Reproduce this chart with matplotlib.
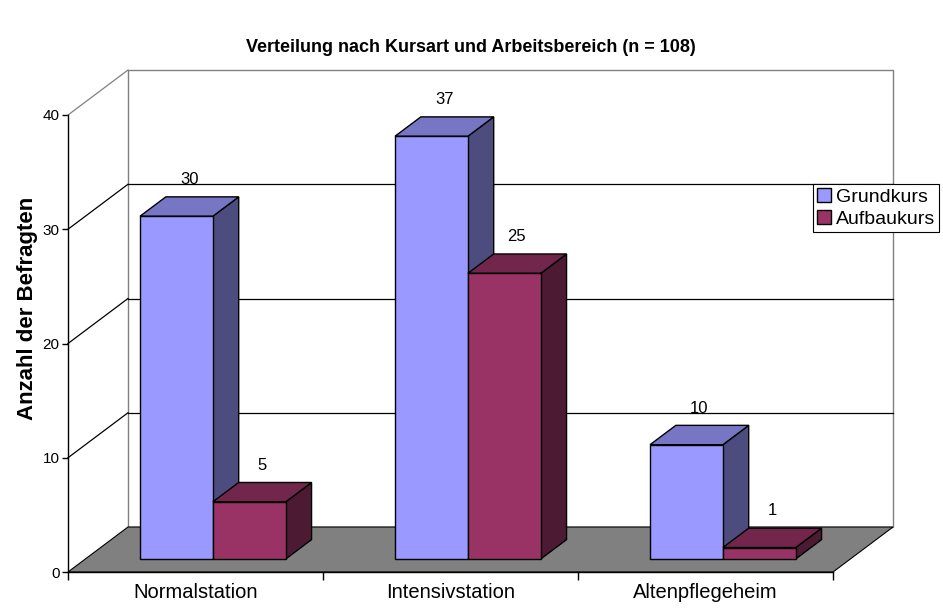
"""
Verteilung nach Kursart und Arbeitsbereich
pseudo-3D grouped bar chart (Excel style)
"""

import matplotlib
matplotlib.use("Agg")
import matplotlib.pyplot as plt
from matplotlib.patches import Polygon, Patch

# Data
categories = ["Normalstation", "Intensivstation", "Altenpflegeheim"]
series_names = ["Grundkurs", "Aufbaukurs"]
grundkurs = [30, 37, 10]
aufbaukurs = [5, 25, 1]
y_ticks = [0, 10, 20, 30, 40]

# Colours (front, top, side) per series
grund_cols = ("#9999FF", "#7676C4", "#4C4C7F")
aufbau_cols = ("#993366", "#73264B", "#4D1A33")

plt.rcParams['font.family'] = ['Liberation Sans', 'DejaVu Sans']

W, H = 943, 610
fig = plt.figure(figsize=(W / 100, H / 100), dpi=100)
# front plane of the plot: x 68..833 px, y 572..115 px
ax = fig.add_axes([68 / W, 38 / H, 765 / W, 457 / H])
ax.set_xlim(0, 3)
ax.set_ylim(0, 40)
ax.patch.set_visible(False)

# depth of the floor, in data units
DX = 60 / 255
DY = 45 / (457 / 40)

def P(x, v, z):
	# oblique projection of (category x, value v, depth z) onto the front plane
	return (x + z * DX, v + z * DY)

ymax = y_ticks[-1]

# back wall
wall = Polygon([P(0, 0, 1), P(3, 0, 1), P(3, ymax, 1), P(0, ymax, 1)], closed=True,
	facecolor="white", edgecolor="#808080", lw=1, clip_on=False, zorder=1)
ax.add_patch(wall)
for v in y_ticks[1:-1]:
	ax.plot(*zip(P(0, v, 1), P(3, v, 1)), color="black", lw=0.9, clip_on=False, zorder=2)
# left wall lines
for v in y_ticks[1:]:
	col = "#808080" if v == ymax else "black"
	ax.plot(*zip(P(0, v, 0), P(0, v, 1)), color=col, lw=0.9, clip_on=False, zorder=2)

# floor
floor = Polygon([P(0, 0, 0), P(3, 0, 0), P(3, 0, 1), P(0, 0, 1)], closed=True,
	facecolor="#808080", edgecolor="black", lw=0.8, clip_on=False, zorder=3)
ax.add_patch(floor)

# bars
bw = 1 / 3.5		# gap width 150%
z0, z1 = 0.29, 0.72
zo = 4
for i in range(len(categories)):
	for j, (vals, cols) in enumerate([(grundkurs, grund_cols), (aufbaukurs, aufbau_cols)]):
		v = vals[i]
		x0 = i + 0.75 * bw + j * bw
		x1 = x0 + bw
		front = [P(x0, 0, z0), P(x1, 0, z0), P(x1, v, z0), P(x0, v, z0)]
		top = [P(x0, v, z0), P(x1, v, z0), P(x1, v, z1), P(x0, v, z1)]
		side = [P(x1, 0, z0), P(x1, v, z0), P(x1, v, z1), P(x1, 0, z1)]
		for pts, c in [(side, cols[2]), (top, cols[1]), (front, cols[0])]:
			ax.add_patch(Polygon(pts, closed=True, facecolor=c, edgecolor="black",
				lw=1, clip_on=False, zorder=zo))
		zo += 1
		# value label
		ax.annotate(str(v), xy=P((x0 + x1) / 2, v, 0.5), xytext=(0, 19.5),
			textcoords="offset points", ha="center", va="center", fontsize=12,
			zorder=20, annotation_clip=False)

# axes styling
for s in ["top", "right"]:
	ax.spines[s].set_visible(False)
ax.spines["left"].set_linewidth(1)
ax.spines["bottom"].set_linewidth(1)
ax.spines["left"].set_zorder(10)
ax.spines["bottom"].set_zorder(10)

ax.set_yticks(y_ticks)
ax.tick_params(axis="y", direction="out", length=4, width=1, pad=2, labelsize=11)
ax.set_xticks([0, 1, 2, 3])
ax.set_xticklabels([])
ax.tick_params(axis="x", which="major", direction="out", length=6, width=1)
ax.set_xticks([0.5, 1.5, 2.5], minor=True)
ax.set_xticklabels(categories, minor=True)
ax.tick_params(axis="x", which="minor", length=0, pad=8, labelsize=14.5)

ax.set_ylabel("Anzahl der Befragten", fontsize=16, fontweight="bold")
ax.yaxis.set_label_coords(-30 / 765, (572 - 308) / 457)

fig.text(471 / W, 1 - 47 / H, "Verteilung nach Kursart und Arbeitsbereich (n = 108)",
	ha="center", va="center", fontsize=13, fontweight="bold")

handles = [Patch(facecolor=grund_cols[0], edgecolor="black", lw=1),
	Patch(facecolor=aufbau_cols[0], edgecolor="black", lw=1)]
leg = fig.legend(handles, series_names, loc="upper left", bbox_to_anchor=(813 / W, 1 - 184 / H),
	bbox_transform=fig.transFigure, borderaxespad=0, fontsize=14, fancybox=False,
	framealpha=1, edgecolor="black", handlelength=0.7, handleheight=0.7,
	handletextpad=0.3, borderpad=0.2, labelspacing=0.25)
leg.get_frame().set_linewidth(0.8)
leg.set_zorder(30)

fig.savefig("out.png", dpi=100)
